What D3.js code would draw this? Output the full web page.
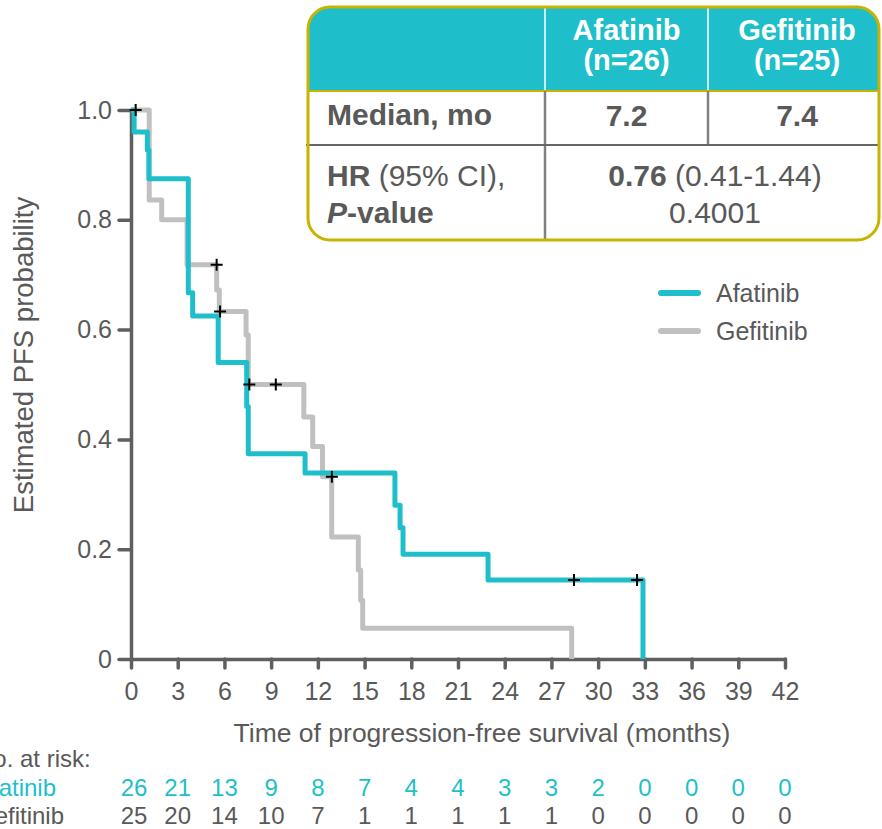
<!DOCTYPE html>
<html>
<head>
<meta charset="utf-8">
<script src="https://cdn.jsdelivr.net/npm/d3@7"></script>
<style>
  html, body { margin: 0; padding: 0; background: #fff; }
  svg { display: block; font-family: "Liberation Sans", Arial, Helvetica, sans-serif; }
</style>
</head>
<body>
<svg id="chart" width="882" height="829"></svg>
<script>
'use strict';

// Kaplan-Meier steps: [months, survival]
const afatinibSteps = [
    [0, 1.0], [0.2, 0.96], [1.05, 0.927], [1.15, 0.875], [3.68, 0.667], [3.96, 0.625],
    [5.6, 0.54], [7.43, 0.46], [7.53, 0.374], [11.18, 0.339], [16.95, 0.28],
    [17.28, 0.239], [17.47, 0.191], [22.93, 0.144], [32.88, 0]
];
const gefitinibSteps = [
    [0, 1.0], [1.17, 0.836], [1.97, 0.8], [3.6, 0.718], [5.5, 0.672], [5.67, 0.633],
    [7.39, 0.59], [7.53, 0.5], [11.1, 0.441], [11.67, 0.387], [12.3, 0.332],
    [12.89, 0.222], [14.6, 0.162], [14.75, 0.107], [14.88, 0.056], [28.3, 0]
];

// censored observations
const afatinibCensored = [[28.45, 0.144], [32.5, 0.144]];
const gefitinibCensored = [[0.3, 1.0], [5.5, 0.718], [5.72, 0.633], [7.6, 0.5], [9.3, 0.5], [12.9, 0.332]];

// axes
const xTicks = [0, 3, 6, 9, 12, 15, 18, 21, 24, 27, 30, 33, 36, 39, 42];
const yTicks = [0, 0.2, 0.4, 0.6, 0.8, 1.0];

// number at risk, one per x tick
const afatinibAtRisk = [26, 21, 13, 9, 8, 7, 4, 4, 3, 3, 2, 0, 0, 0, 0];
const gefitinibAtRisk = [25, 20, 14, 10, 7, 1, 1, 1, 1, 1, 0, 0, 0, 0, 0];

// summary table
const tableHeads = [['Afatinib', '(n=26)'], ['Gefitinib', '(n=25)']];
const medians = ['7.2', '7.4'];

const CONFIG = {
    teal: '#1ebfca',
    gray: '#c0c0c0',
    text: '#595959',
    axis: '#5f5f5f',
    border: '#c8b400',
    plot: { left: 131, right: 785, top: 110, bottom: 659 }
};

const svg = d3.select('#chart');

const x = d3.scaleLinear().domain([0, 42]).range([CONFIG.plot.left, CONFIG.plot.right]);
const y = d3.scaleLinear().domain([0, 1]).range([CONFIG.plot.bottom, CONFIG.plot.top]);

// Axes
const yAxis = svg.append('g')
    .attr('transform', `translate(${CONFIG.plot.left},0)`)
    .call(d3.axisLeft(y).tickValues(yTicks)
        .tickFormat(d => d === 0 ? '0' : d3.format('.1f')(d))
        .tickSize(12).tickSizeOuter(0).tickPadding(7));

const xAxis = svg.append('g')
    .attr('transform', `translate(0,${CONFIG.plot.bottom})`)
    .call(d3.axisBottom(x).tickValues(xTicks)
        .tickSize(9).tickSizeOuter(0).tickPadding(14));

[xAxis, yAxis].forEach(a => {
    a.select('.domain').attr('stroke', CONFIG.axis).attr('stroke-width', 3.5);
    a.selectAll('.tick line').attr('stroke', CONFIG.axis).attr('stroke-width', 3.5)
        .attr('stroke-linecap', 'round');
    a.selectAll('.tick text').attr('fill', CONFIG.text).attr('font-size', 25)
        .attr('font-family', '"Liberation Sans", Arial, sans-serif');
});

// Axis titles
svg.append('text')
    .attr('x', 482).attr('y', 742)
    .attr('text-anchor', 'middle')
    .attr('font-size', 26.5).attr('fill', CONFIG.text)
    .text('Time of progression-free survival (months)');

svg.append('text')
    .attr('transform', 'translate(33,355) rotate(-90)')
    .attr('text-anchor', 'middle')
    .attr('font-size', 27.5).attr('fill', CONFIG.text)
    .text('Estimated PFS probability');

// Survival curves (gray below teal)
const line = d3.line()
    .x(d => x(d[0]))
    .y(d => y(d[1]))
    .curve(d3.curveStepAfter);

const curves = [
    { steps: gefitinibSteps, color: CONFIG.gray },
    { steps: afatinibSteps, color: CONFIG.teal }
];

svg.append('g')
    .selectAll('path')
    .data(curves)
    .join('path')
    .attr('d', d => line(d.steps))
    .attr('fill', 'none')
    .attr('stroke', d => d.color)
    .attr('stroke-width', 5)
    .attr('stroke-linejoin', 'round');

// Censor marks
const censored = gefitinibCensored.concat(afatinibCensored);
svg.append('g')
    .selectAll('path')
    .data(censored)
    .join('path')
    .attr('d', d => {
        const cx = x(d[0]), cy = y(d[1]), h = 6;
        return `M${cx - h},${cy}H${cx + h}M${cx},${cy - h}V${cy + h}`;
    })
    .attr('stroke', '#000')
    .attr('stroke-width', 2);

// Legend
const legend = svg.append('g');
[['Afatinib', CONFIG.teal, 293], ['Gefitinib', CONFIG.gray, 331]].forEach(([name, color, ly]) => {
    legend.append('line')
        .attr('x1', 661).attr('x2', 698).attr('y1', ly).attr('y2', ly)
        .attr('stroke', color).attr('stroke-width', 6).attr('stroke-linecap', 'round');
    legend.append('text')
        .attr('x', 716).attr('y', ly + 8.5)
        .attr('font-size', 25).attr('fill', CONFIG.text)
        .text(name);
});

// Number at risk table (row labels run off the left edge, as in the source)
const risk = svg.append('g').attr('font-size', 24);
risk.append('text').attr('x', -24).attr('y', 767).attr('fill', CONFIG.text).text('No. at risk:');
risk.append('text').attr('x', -24).attr('y', 796).attr('fill', CONFIG.teal).text('Afatinib');
risk.append('text').attr('x', -24).attr('y', 824).attr('fill', CONFIG.text).text('Gefitinib');

[[afatinibAtRisk, CONFIG.teal, 796], [gefitinibAtRisk, CONFIG.text, 824]].forEach(([vals, color, ry]) => {
    risk.append('g')
        .selectAll('text')
        .data(vals)
        .join('text')
        .attr('x', (d, i) => x(xTicks[i]) + (i === 0 ? 3 : 0))
        .attr('y', ry)
        .attr('text-anchor', 'middle')
        .attr('fill', color)
        .text(d => d);
});

// Summary table box
const box = { x: 308, y: 7, w: 571, h: 233, r: 22 };
const col1 = 545, col2 = 708, headBottom = 91, rowBottom = 145;

svg.append('clipPath').attr('id', 'box-clip')
    .append('rect')
    .attr('x', box.x).attr('y', box.y).attr('width', box.w).attr('height', box.h).attr('rx', box.r);

const table = svg.append('g');
table.append('rect')
    .attr('x', box.x).attr('y', box.y).attr('width', box.w).attr('height', box.h).attr('rx', box.r)
    .attr('fill', '#fff');
table.append('rect')
    .attr('clip-path', 'url(#box-clip)')
    .attr('x', box.x).attr('y', box.y).attr('width', box.w).attr('height', headBottom - box.y)
    .attr('fill', CONFIG.teal);
table.append('line')
    .attr('x1', box.x).attr('x2', box.x + box.w).attr('y1', headBottom).attr('y2', headBottom)
    .attr('stroke', CONFIG.border).attr('stroke-width', 2);

// column separators
[col1, col2].forEach(cx => {
    table.append('line')
        .attr('x1', cx).attr('x2', cx).attr('y1', box.y).attr('y2', headBottom - 1)
        .attr('stroke', '#fff').attr('stroke-width', 1.5);
});
table.append('line')
    .attr('x1', col1).attr('x2', col1).attr('y1', headBottom).attr('y2', box.y + box.h)
    .attr('stroke', '#808080').attr('stroke-width', 2.5);
table.append('line')
    .attr('x1', col2).attr('x2', col2).attr('y1', headBottom).attr('y2', rowBottom)
    .attr('stroke', '#808080').attr('stroke-width', 2.5);
table.append('line')
    .attr('x1', box.x - 2).attr('x2', box.x + box.w).attr('y1', rowBottom).attr('y2', rowBottom)
    .attr('stroke', '#666').attr('stroke-width', 2);

table.append('rect')
    .attr('x', box.x).attr('y', box.y).attr('width', box.w).attr('height', box.h).attr('rx', box.r)
    .attr('fill', 'none').attr('stroke', CONFIG.border).attr('stroke-width', 3);

// table texts
const colCenters = [626.5, 797];
const tfont = 30;
tableHeads.forEach((lines, i) => {
    lines.forEach((t, j) => {
        table.append('text')
            .attr('x', colCenters[i]).attr('y', 40 + j * 30)
            .attr('text-anchor', 'middle').attr('font-size', 29).attr('font-weight', 'bold')
            .attr('fill', '#fff').text(t);
    });
});

table.append('text')
    .attr('x', 327).attr('y', 125)
    .attr('font-size', tfont).attr('font-weight', 'bold').attr('fill', CONFIG.text)
    .text('Median, mo');

medians.forEach((m, i) => {
    table.append('text')
        .attr('x', colCenters[i]).attr('y', 126)
        .attr('text-anchor', 'middle').attr('font-size', tfont).attr('font-weight', 'bold')
        .attr('fill', CONFIG.text).text(m);
});

const hrLabel = table.append('text')
    .attr('x', 327).attr('y', 186).attr('font-size', tfont).attr('fill', CONFIG.text);
hrLabel.append('tspan').attr('font-weight', 'bold').text('HR');
hrLabel.append('tspan').text(' (95% CI),');

const pLabel = table.append('text')
    .attr('x', 327).attr('y', 223).attr('font-size', tfont).attr('fill', CONFIG.text)
    .attr('font-weight', 'bold');
pLabel.append('tspan').attr('font-style', 'italic').text('P');
pLabel.append('tspan').text('-value');

const hrValue = table.append('text')
    .attr('x', 715).attr('y', 186).attr('text-anchor', 'middle')
    .attr('font-size', tfont).attr('fill', CONFIG.text);
hrValue.append('tspan').attr('font-weight', 'bold').text('0.76');
hrValue.append('tspan').text(' (0.41-1.44)');

table.append('text')
    .attr('x', 715).attr('y', 223).attr('text-anchor', 'middle')
    .attr('font-size', tfont).attr('fill', CONFIG.text)
    .text('0.4001');
</script>
</body>
</html>
